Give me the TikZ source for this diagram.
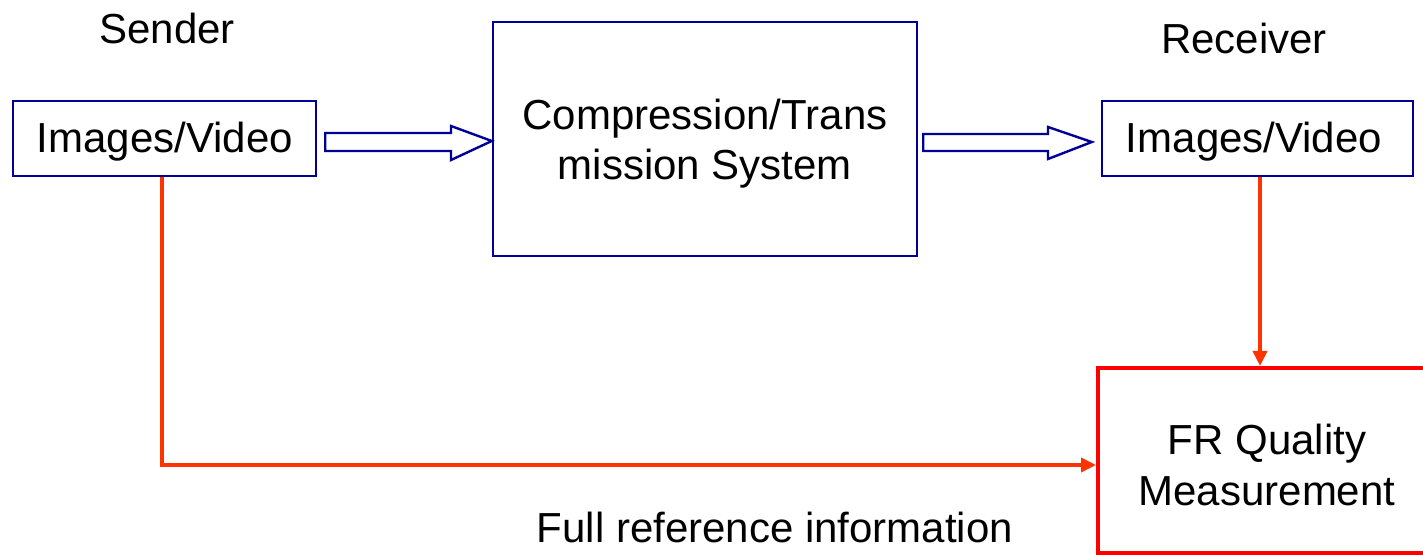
\documentclass[tikz,border=0pt]{standalone}
\usepackage{fontspec}
\setmainfont{Liberation Sans}
\usetikzlibrary{arrows.meta,calc}
\definecolor{bblue}{HTML}{000099}
\definecolor{lred}{HTML}{FF3300}
\definecolor{bred}{HTML}{FF0000}
\begin{document}
\begin{tikzpicture}[x=0.5pt,y=-0.5pt,
  lbl/.style={font=\fontsize{21}{25}\selectfont, inner sep=0pt, align=center},
  bluebox/.style={draw=bblue, line width=1.2pt, fill=white, inner sep=0pt},
  redline/.style={draw=lred, line width=1.8pt, -{Triangle[length=7.5pt,width=7pt]}},
  hollow/.style={draw=bblue, line width=1.2pt, fill=white, line join=miter}]
\useasboundingbox (0,0) rectangle (1423,555);
\begin{scope}
\clip (0,0) rectangle (1423,555);
\node[bluebox, minimum width=151.5pt, minimum height=37.5pt] (snd) at (164.5,138.5) {};
\node[lbl] (sndt) at (165,142) {Images/Video};
\node[bluebox, minimum width=212pt, minimum height=117pt] (cts) at (705,139) {};
\node[lbl] (ctst) at (705,144) {Compression/Trans\\mission System};
\node[bluebox, minimum width=155.5pt, minimum height=37.5pt] (rcv) at (1257.5,138.5) {};
\node[lbl] (rcvt) at (1254,142) {Images/Video};
\node[draw=bred, line width=2pt, inner sep=0pt, minimum width=169pt, minimum height=92.5pt] (fr) at (1267,460.5) {};
\node[lbl, font=\fontsize{21}{25.5}\selectfont] (frt) at (1267,465) {FR Quality\\Measurement};
\node[lbl] (sl) at (167,28) {Sender};
\node[lbl] (rl) at (1244,38) {Receiver};
\node[lbl] (fl) at (775,527) {Full reference information};
% hollow arrows
\draw[hollow] ($(snd.east |- 0,133)+(8,0)$) -- (451,133) -- (451,126) -- (cts.west |- 0,141) -- (451,160) -- (451,151) -- ($(snd.east |- 0,151)+(8,0)$) -- cycle;
\draw[hollow] ($(cts.east |- 0,134)+(5,0)$) -- (1048,134) -- (1048,127) -- ($(rcv.west |- 0,142)+(-9,0)$) -- (1048,159) -- (1048,151) -- ($(cts.east |- 0,151)+(5,0)$) -- cycle;
% red connectors
\coordinate (c1) at (162,465);
\draw[redline] (snd.south -| c1) -- (c1) -- (fr.west |- c1);
\draw[redline] (rcv.south -| 1260,0) -- (fr.north -| 1260,0);
\end{scope}
\end{tikzpicture}
\end{document}
